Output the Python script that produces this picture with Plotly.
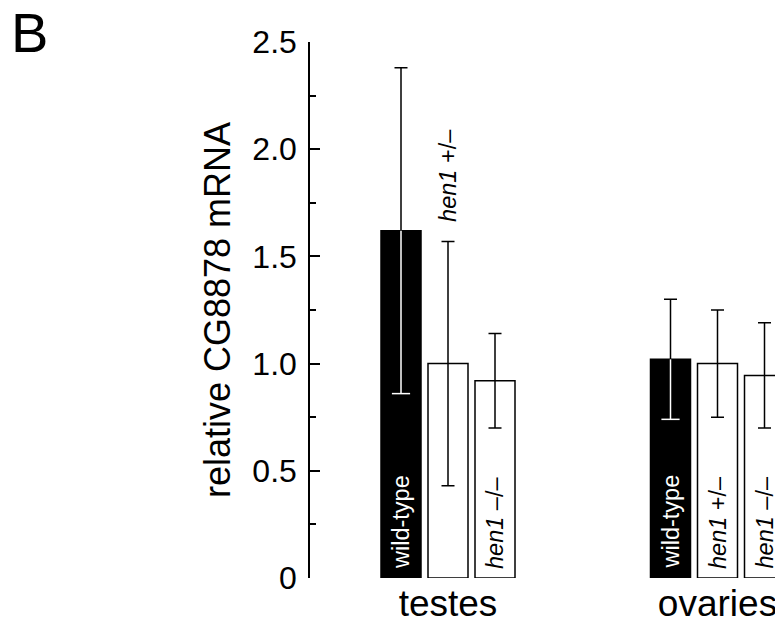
import plotly.graph_objects as go

# ---- data ----
groups = ["testes", "ovaries"]
genotypes = ["wild-type", "<i>hen1</i> +/–", "<i>hen1</i> –/–"]
testes_mean = [1.62, 1.00, 0.92]
testes_err = [0.76, 0.57, 0.22]
ovaries_mean = [1.02, 1.00, 0.945]
ovaries_err = [0.28, 0.25, 0.245]
ytick_vals = [0, 0.5, 1.0, 1.5, 2.0, 2.5]
ytick_text = ["0", "0.5", "1.0", "1.5", "2.0", "2.5"]
y_title = "relative CG8878 mRNA"
panel_label = "B"

means = [testes_mean, ovaries_mean]
errs = [testes_err, ovaries_err]

# ---- geometry (layout only) ----
# page body has an 8px margin, so figure coordinates are offset by 8px
W, H = 783, 627
ML, MR, MT = 302, 0, 34
plot_h = 536
MB = H - MT - plot_h
group_px = 269.5      # pixel distance between group centres
slot_px = 47          # pixel distance between bars in a group
bar_px = 40           # bar width in px
first_center_px = 440 # figure-pixel x of first group centre
x_min = -(first_center_px - ML) / group_px
x_max = (W - MR - first_center_px) / group_px
off = slot_px / group_px
bw = bar_px / group_px
y_max = 2.5
px_per_unit = plot_h / y_max

FONT = "Liberation Sans, Arial, Helvetica, sans-serif"

fig = go.Figure()
fills = ["black", "white", "white"]
for k, g in enumerate(genotypes):
    xs = [gi + (k - 1) * off for gi in range(len(groups))]
    ys = [means[gi][k] for gi in range(len(groups))]
    es = [errs[gi][k] for gi in range(len(groups))]
    fig.add_trace(go.Bar(
        x=xs, y=ys, width=bw,
        marker=dict(color=fills[k], line=dict(color="black", width=1.5)),
        error_y=dict(type="data", array=es, visible=True, color="black",
                     thickness=1.5, width=6.5),
        showlegend=False, hoverinfo="skip",
    ))
    if fills[k] == "black":
        lows = [y - e for y, e in zip(ys, es)]
        # white part of error bar inside the black bar
        fig.add_trace(go.Scatter(
            x=xs, y=lows, mode="markers",
            marker=dict(symbol="line-ew", size=13,
                        line=dict(color="white", width=1.5), color="white"),
            error_y=dict(type="data", array=es, arrayminus=[0] * len(es),
                         symmetric=False, visible=True, color="white",
                         thickness=1.5, width=0),
            showlegend=False, hoverinfo="skip",
        ))

annotations = []
label_len_px = 93
for k, g in enumerate(genotypes):
    for gi in range(len(groups)):
        x = gi + (k - 1) * off
        y = means[gi][k]
        e = errs[gi][k]
        low = y - e
        fits = (low * px_per_unit) > (label_len_px + 14)
        if fits:
            annotations.append(dict(
                x=x, y=0, xref="x", yref="y", text=g, showarrow=False,
                textangle=-90, xanchor="center", yanchor="bottom", yshift=7,
                font=dict(family=FONT, size=23.5,
                          color="white" if fills[k] == "black" else "black"),
            ))
        else:
            annotations.append(dict(
                x=x, y=y + e, xref="x", yref="y", text=g, showarrow=False,
                textangle=-90, xanchor="center", yanchor="bottom", yshift=17,
                font=dict(family=FONT, size=23.5, color="black"),
            ))

annotations.append(dict(
    x=0, y=1, xref="paper", yref="paper", text=panel_label, showarrow=False,
    xanchor="left", yanchor="middle", xshift=-(ML - 1), yshift=MT - 24,
    font=dict(family=FONT, size=56, color="black"),
))

fig.update_layout(
    width=W, height=H,
    margin=dict(l=ML, r=MR, t=MT, b=MB, autoexpand=False),
    paper_bgcolor="white", plot_bgcolor="white",
    barmode="overlay",
    font=dict(family=FONT, color="black"),
    annotations=annotations,
    xaxis=dict(
        range=[x_min, x_max], showgrid=False, zeroline=False, showline=False,
        tickvals=list(range(len(groups))), ticktext=groups, ticks="",
        tickfont=dict(family=FONT, size=37, color="black"),
        ticklabelstandoff=0,
    ),
    yaxis=dict(
        range=[0, y_max], showgrid=False, zeroline=False,
        showline=True, linecolor="black", linewidth=1.5,
        tickvals=ytick_vals, ticktext=ytick_text,
        ticks="inside", ticklen=10, tickwidth=1.5, tickcolor="black",
        minor=dict(ticks="inside", ticklen=6, tickwidth=1.5,
                   tickcolor="black", dtick=0.25, tick0=0),
        tickfont=dict(family=FONT, size=32, color="black"),
        ticklabelstandoff=5,
        title=dict(text=y_title, font=dict(family=FONT, size=36, color="black"),
                   standoff=11),
    ),
)

fig.write_html("out.html")
